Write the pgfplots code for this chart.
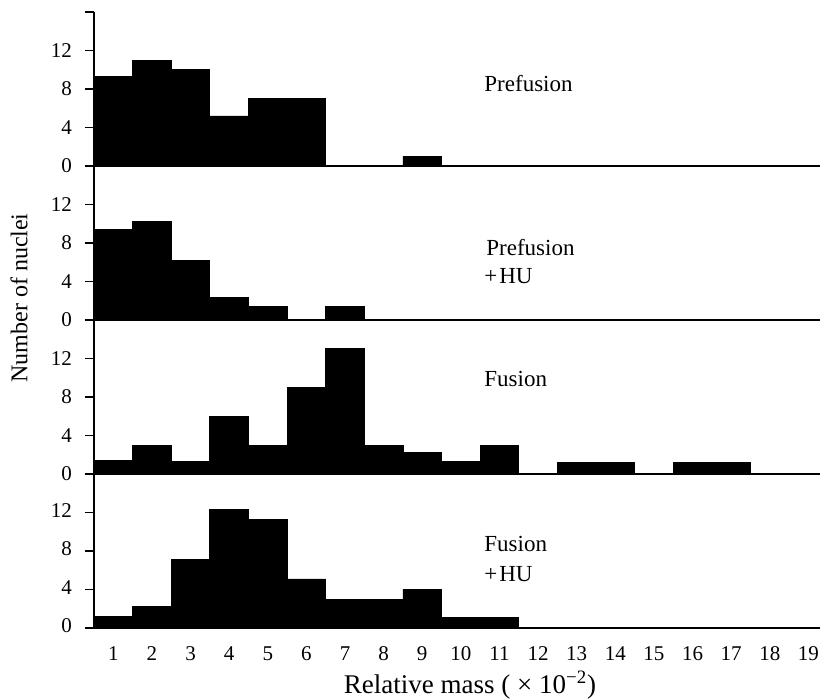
\documentclass[border=0pt]{standalone}
\usepackage{pgfplots}
\pgfplotsset{compat=1.18}
\usepackage{fontspec}
\setmainfont{Liberation Serif}

% one histogram panel, 16 counts high
\pgfplotsset{
  panel/.style={
    scale only axis, width=363pt, height=77pt,
    xmin=0.5, xmax=19.3, ymin=0, ymax=16,
    axis x line=bottom, axis y line=left,
    axis line style={-},
    y axis line style={line width=1pt},
    x axis line style={line width=1.3pt},
    ytick={0,4,8,12},
    tick align=outside, major tick length=4.5pt,
    ytick style={line width=0.8pt, black},
    xtick=\empty,
    tick label style={font=\fontsize{10.5}{12}\selectfont},
    yticklabel style={xshift=-3pt},
    /pgf/number format/assume math mode=true,
  },
  hist/.style={ybar interval, fill=black, draw=black, line width=0.4pt},
}
\tikzset{tag/.style={anchor=west, inner sep=0pt, font=\fontsize{11.5}{13}\selectfont}}

\begin{document}
\begin{tikzpicture}
\path[use as bounding box] (0,0) rectangle (410pt,349.5pt);

% Prefusion
\begin{axis}[panel, at={(47pt,266.5pt)}, anchor=south west,
  ytick={0,4,8,12,16}, yticklabels={0,4,8,12,{}}]
\addplot[hist] coordinates {
  (0.5,9.3) (1.5,11) (2.5,10) (3.5,5.2) (4.5,7) (5.5,7) (6.5,0) (7.5,0)
  (8.5,1) (9.5,0) (10.5,0) (11.5,0) (12.5,0) (13.5,0) (14.5,0) (15.5,0)
  (16.5,0) (17.5,0) (18.5,0) (19.5,0)
};
\node[tag] at (axis cs:10.6,8.6) {Prefusion};
\end{axis}

% Prefusion + HU
\begin{axis}[panel, at={(47pt,189.5pt)}, anchor=south west]
\addplot[hist] coordinates {
  (0.5,9.4) (1.5,10.2) (2.5,6.2) (3.5,2.3) (4.5,1.4) (5.5,0) (6.5,1.4) (7.5,0)
  (8.5,0) (9.5,0) (10.5,0) (11.5,0) (12.5,0) (13.5,0) (14.5,0) (15.5,0)
  (16.5,0) (17.5,0) (18.5,0) (19.5,0)
};
\node[tag] at (axis cs:10.65,7.5) {Prefusion};
\node[tag] at (axis cs:10.6,4.6) {+\kern1pt HU};
\end{axis}

% Fusion
\begin{axis}[panel, at={(47pt,112.5pt)}, anchor=south west]
\addplot[hist] coordinates {
  (0.5,1.4) (1.5,3) (2.5,1.3) (3.5,6) (4.5,3) (5.5,9) (6.5,13) (7.5,3)
  (8.5,2.2) (9.5,1.3) (10.5,3) (11.5,0) (12.5,1.2) (13.5,1.2) (14.5,0) (15.5,1.2)
  (16.5,1.2) (17.5,0) (18.5,0) (19.5,0)
};
\node[tag] at (axis cs:10.6,9.9) {Fusion};
\end{axis}

% Fusion + HU
\begin{axis}[panel, at={(47pt,35.5pt)}, anchor=south west,
  xtick={1,...,19}, xtick style={draw=none},
  typeset ticklabels with strut,
  xticklabel style={yshift=0pt},
  xlabel={Relative mass ( × 10\textsuperscript{−2})},
  xlabel style={at={(axis description cs:0.518,0)}, anchor=center,
    yshift=-28.5pt, font=\fontsize{13.5}{15}\selectfont}]
\addplot[hist] coordinates {
  (0.5,1.2) (1.5,2.2) (2.5,7.1) (3.5,12.3) (4.5,11.3) (5.5,5.1) (6.5,3) (7.5,3)
  (8.5,4) (9.5,1.1) (10.5,1.1) (11.5,0) (12.5,0) (13.5,0) (14.5,0) (15.5,0)
  (16.5,0) (17.5,0) (18.5,0) (19.5,0)
};
\node[tag] at (axis cs:10.6,8.7) {Fusion};
\node[tag] at (axis cs:10.6,5.6) {+\kern1pt HU};
\end{axis}

\node[rotate=90, font=\fontsize{12}{14}\selectfont] at (9.5pt,200.5pt) {Number of nuclei};
\end{tikzpicture}
\end{document}
